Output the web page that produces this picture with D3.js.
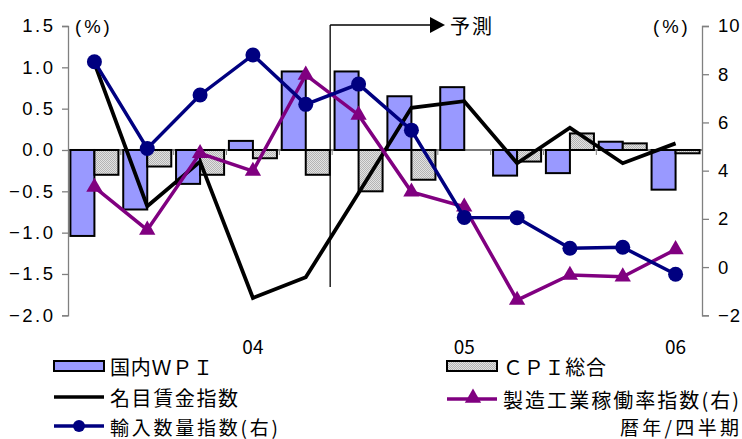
<!DOCTYPE html>
<html>
<head>
<meta charset="utf-8">
<script src="https://cdn.jsdelivr.net/npm/d3@7"></script>
<style>
  html, body { margin: 0; padding: 0; background: #fff; }
  svg { display: block; }
</style>
</head>
<body>
<svg id="chart" width="742" height="439"></svg>
<script>
// Quarterly observations (2003 Q2 ... 2006 Q1); from index 5 on the values are forecasts
const quarters = ["03Q2","03Q3","03Q4","04Q1","04Q2","04Q3","04Q4","05Q1","05Q2","05Q3","05Q4","06Q1"];
const quarterLabels = ["","","","04","","","","05","","","","06"];

// Left axis (%)
const wpi   = [-1.04, -0.72, -0.41, 0.11, 0.95, 0.95, 0.65, 0.76, -0.31, -0.28, 0.10, -0.48];
const cpi   = [-0.30, -0.20, -0.30, -0.10, -0.30, -0.50, -0.36, 0.00, -0.14, 0.20, 0.08, -0.04];
const wages = [1.05, -0.68, -0.14, -1.79, -1.54, -0.52, 0.51, 0.59, -0.16, 0.27, -0.16, 0.08];

// Right axis (%)
const utilization = [3.32, 1.54, 4.72, 3.98, 7.97, 6.31, 3.12, 2.50, -1.37, -0.33, -0.40, 0.73];
const imports     = [8.52, 4.92, 7.14, 8.80, 6.75, 7.59, 5.68, 2.06, 2.05, 0.78, 0.82, -0.30];

const leftTicks  = [1.5, 1.0, 0.5, 0.0, -0.5, -1.0, -1.5, -2.0];
const rightTicks = [10, 8, 6, 4, 2, 0, -2];
const forecastStart = 5;

const svg = d3.select("#chart");
const plot = { left: 68, right: 702, top: 26, bottom: 315.3 };

const x = d3.scaleBand().domain(quarters).range([plot.left, plot.right]).padding(0);
const xs = d3.scaleBand().domain(["wpi", "cpi"]).range([0, x.bandwidth()])
  .paddingInner(0).paddingOuter(0.1);
const yL = d3.scaleLinear().domain([-2, 1.5]).range([plot.bottom, plot.top]);
const yR = d3.scaleLinear().domain([-2, 10]).range([plot.bottom, plot.top]);

const numFont = "'Liberation Sans', Arial, sans-serif";
const jpFont = "'Noto Sans CJK JP', 'Noto Sans', sans-serif";

// Dithered gray fill for the CPI bars
const defs = svg.append("defs");
const pat = defs.append("pattern").attr("id", "cpiFill")
  .attr("width", 2).attr("height", 2).attr("patternUnits", "userSpaceOnUse");
pat.append("rect").attr("width", 2).attr("height", 2).attr("fill", "#e2e2e2");
[[0,0],[1,1]].forEach(([a,b]) =>
  pat.append("rect").attr("x", a).attr("y", b).attr("width", 1).attr("height", 1).attr("fill", "#b4b4b4"));

// Bars
const barGroup = svg.append("g");
const barSeries = [
  { key: "wpi", values: wpi, fill: "#9999ff" },
  { key: "cpi", values: cpi, fill: "url(#cpiFill)" }
];
barSeries.forEach(s => {
  barGroup.selectAll(null).data(s.values).join("rect")
    .attr("x", (d, i) => x(quarters[i]) + xs(s.key))
    .attr("width", xs.bandwidth())
    .attr("y", d => Math.min(yL(d), yL(0)))
    .attr("height", d => Math.abs(yL(d) - yL(0)))
    .attr("fill", s.fill)
    .attr("stroke", "#000")
    .attr("stroke-width", 2);
});

// Zero line with category-boundary ticks
svg.append("line")
  .attr("x1", plot.left).attr("x2", plot.right)
  .attr("y1", yL(0)).attr("y2", yL(0))
  .attr("stroke", "#000").attr("stroke-width", 1.2);
svg.append("g").selectAll("line").data(quarters.slice(1)).join("line")
  .attr("x1", d => x(d)).attr("x2", d => x(d))
  .attr("y1", yL(0)).attr("y2", yL(0) + 5)
  .attr("stroke", "#808080").attr("stroke-width", 1);

// Category labels
svg.append("g").selectAll("text").data(quarters).join("text")
  .attr("x", d => x(d) + x.bandwidth() / 2)
  .attr("y", 345)
  .attr("text-anchor", "middle")
  .attr("dominant-baseline", "central")
  .attr("font-family", jpFont)
  .attr("font-size", 19)
  .attr("fill", "#000")
  .text((d, i) => quarterLabels[i]);

// Forecast marker
const fx = x(quarters[forecastStart]) - 2;
svg.append("line").attr("x1", fx).attr("x2", fx).attr("y1", 25).attr("y2", 287)
  .attr("stroke", "#000").attr("stroke-width", 1.3);
svg.append("line").attr("x1", fx).attr("x2", 431).attr("y1", 25).attr("y2", 25)
  .attr("stroke", "#000").attr("stroke-width", 1.3);
svg.append("path").attr("d", "M430,17 L445,25 L430,33 Z").attr("fill", "#000");
svg.append("text").attr("x", 450).attr("y", 25)
  .attr("dominant-baseline", "central")
  .attr("font-family", jpFont).attr("font-size", 20)
  .attr("textLength", 42).attr("lengthAdjust", "spacing")
  .text("予測");

// Lines
const cx = (d, i) => x(quarters[i]) + x.bandwidth() / 2;
const lineL = d3.line().x(cx).y(d => yL(d));
const lineR = d3.line().x(cx).y(d => yR(d));

svg.append("path").datum(wages).attr("d", lineL)
  .attr("fill", "none").attr("stroke", "#000").attr("stroke-width", 3.8)
  .attr("stroke-linejoin", "miter");

svg.append("path").datum(utilization).attr("d", lineR)
  .attr("fill", "none").attr("stroke", "#800080").attr("stroke-width", 3.5);
const tri = d3.symbol().type(d3.symbolTriangle).size(115);
svg.append("g").selectAll("path").data(utilization).join("path")
  .attr("transform", (d, i) => `translate(${cx(d, i)},${yR(d)})`)
  .attr("d", tri).attr("fill", "#800080");

svg.append("path").datum(imports).attr("d", lineR)
  .attr("fill", "none").attr("stroke", "#000080").attr("stroke-width", 3.5);
svg.append("g").selectAll("circle").data(imports).join("circle")
  .attr("cx", cx).attr("cy", d => yR(d)).attr("r", 7.5)
  .attr("fill", "#000080");

// Axes
const leftAxis = d3.axisLeft(yL).tickValues(leftTicks).tickSize(6).tickPadding(9)
  .tickFormat(d3.format(".1f"));
const gL = svg.append("g").attr("transform", `translate(${plot.left},0)`).call(leftAxis);
const rightAxis = d3.axisRight(yR).tickValues(rightTicks).tickSize(7).tickPadding(9)
  .tickFormat(d3.format("d"));
const gR = svg.append("g").attr("transform", `translate(${plot.right},0)`).call(rightAxis);
[gL, gR].forEach(g => {
  g.select(".domain").attr("stroke", "#808080").attr("stroke-width", 1.3);
  g.selectAll(".tick line").attr("stroke", "#808080").attr("stroke-width", 1.3);
  g.selectAll(".tick text").attr("font-family", numFont).attr("font-size", 18.5)
    .attr("fill", "#000").attr("letter-spacing", 2.5);
});
gL.selectAll(".tick text").attr("dx", 2.5);
gR.selectAll(".tick text").attr("letter-spacing", 1);

// Unit labels
svg.append("text").attr("x", 75).attr("y", 26).attr("dominant-baseline", "central")
  .attr("font-family", numFont).attr("font-size", 18.5).attr("letter-spacing", 3)
  .text("(%)");
svg.append("text").attr("x", 653).attr("y", 26).attr("dominant-baseline", "central")
  .attr("font-family", numFont).attr("font-size", 18.5).attr("letter-spacing", 3)
  .text("(%)");

// Legend
const legend = svg.append("g");
const legendItems = [
  { label: "国内ＷＰＩ", x: 54, y: 366, type: "bar", fill: "#9999ff", w: 103 },
  { label: "ＣＰＩ総合", x: 447, y: 366, type: "bar", fill: "url(#cpiFill)", w: 103 },
  { label: "名目賃金指数", x: 54, y: 397, type: "line", color: "#000", w: 128 },
  { label: "製造工業稼働率指数(右)", x: 447, y: 399, type: "tri", color: "#800080", w: 236 },
  { label: "輸入数量指数(右)", x: 54, y: 426, type: "dot", color: "#000080", w: 168 }
];
legendItems.forEach(it => {
  const g = legend.append("g").attr("transform", `translate(${it.x},${it.y})`);
  if (it.type === "bar") {
    g.append("rect").attr("x", 0).attr("y", -5).attr("width", 50).attr("height", 10)
      .attr("fill", it.fill).attr("stroke", "#000").attr("stroke-width", 2);
  } else {
    g.append("line").attr("x1", 0).attr("x2", 50).attr("y1", 0).attr("y2", 0)
      .attr("stroke", it.color).attr("stroke-width", 3.5);
    if (it.type === "tri") {
      g.append("path").attr("transform", "translate(26,-1)").attr("d", tri).attr("fill", it.color);
    }
    if (it.type === "dot") {
      g.append("circle").attr("cx", 25).attr("cy", 0).attr("r", 6).attr("fill", it.color);
    }
  }
  g.append("text").attr("x", 56).attr("y", 0).attr("dominant-baseline", "central")
    .attr("font-family", jpFont).attr("font-size", it.y > 420 ? 19 : 20)
    .attr("textLength", it.w).attr("lengthAdjust", "spacing")
    .text(it.label);
});
svg.append("text").attr("x", 620).attr("y", 426)
  .attr("dominant-baseline", "central")
  .attr("font-family", jpFont).attr("font-size", 19)
  .attr("textLength", 119).attr("lengthAdjust", "spacing")
  .text("暦年/四半期");
</script>
</body>
</html>
